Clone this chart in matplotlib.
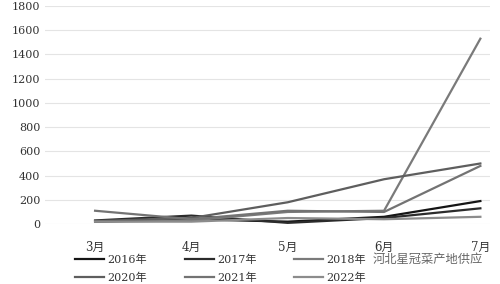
import matplotlib.pyplot as plt

plt.rcParams["font.family"] = ["DejaVu Serif", "Noto Sans CJK SC"]

months = ["3月", "4月", "5月", "6月", "7月"]
years = ["2016年", "2017年", "2018年", "2020年", "2021年", "2022年"]
v2016 = [20, 40, 20, 60, 190]
v2017 = [30, 70, 10, 50, 130]
v2018 = [20, 30, 100, 110, 1530]
v2020 = [25, 50, 180, 370, 500]
v2021 = [110, 40, 110, 100, 480]
v2022 = [20, 20, 50, 40, 60]
series = [v2016, v2017, v2018, v2020, v2021, v2022]
colors = ["#151515", "#2b2b2b", "#7a7a7a", "#5e5e5e", "#737373", "#8c8c8c"]

fig = plt.figure(figsize=(5, 2.84), dpi=100)
ax = fig.add_axes([0.09, 0.211, 0.89, 0.768])

x = range(len(months))
lines = []
for vals, c, lab in zip(series, colors, years):
    ln, = ax.plot(x, vals, color=c, lw=1.6, label=lab)
    lines.append(ln)

ax.set_ylim(0, 1800)
ax.set_yticks(range(0, 1801, 200))
ax.set_xlim(-0.52, 4.1)
ax.set_xticks(list(x))
ax.set_xticklabels(months)
ax.grid(axis="y", color="#e4e4e4", lw=0.8)
ax.set_axisbelow(True)
for s in ax.spines.values():
    s.set_visible(False)
ax.tick_params(length=0, labelsize=8, colors="#333333")
ax.tick_params(axis="x", pad=12, labelsize=8.5)

# legend fills by column, so reorder to get 2016/2017/2018 in the first row
order = [0, 3, 1, 4, 2, 5]
fig.legend([lines[i] for i in order], [years[i] for i in order],
           loc="lower left", bbox_to_anchor=(0.13, -0.03), ncol=3, frameon=False,
           fontsize=8, handlelength=2.6, handletextpad=0.3, columnspacing=3.4,
           labelspacing=0.65, labelcolor="#333333")

fig.text(0.745, 0.073, "河北星冠菜产地供应", fontsize=8.8, color="#666666",
         family=["Noto Sans CJK SC"])

fig.savefig("out.png", dpi=100)
